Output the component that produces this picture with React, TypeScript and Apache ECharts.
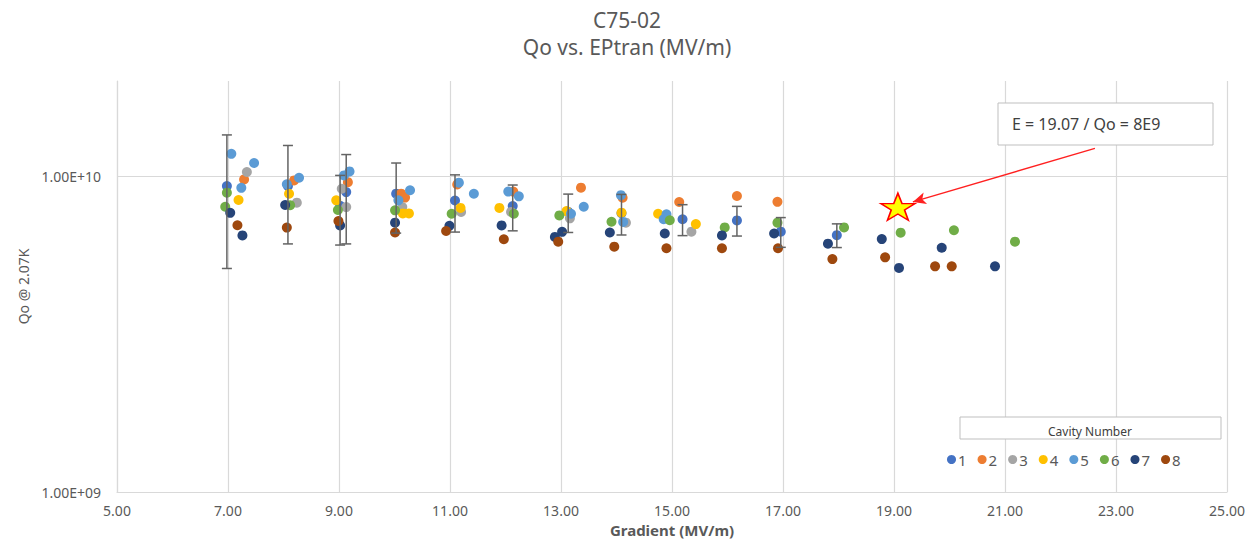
import React, { useEffect, useRef } from 'react';
import * as echarts from 'echarts';

const cavityNames = ['1', '2', '3', '4', '5', '6', '7', '8'];
const cavityColors = ['#4472C4', '#ED7D31', '#A5A5A5', '#FFC000', '#5B9BD5', '#70AD47', '#264478', '#9E480E'];

const cav1 = [[6.98, 9.30e9], [8.08, 9.30e9], [9.02, 8.05e9], [9.13, 8.90e9], [10.03, 8.80e9], [11.09, 8.37e9], [12.13, 8.04e9], [13.13, 7.70e9], [14.09, 7.63e9], [15.19, 7.30e9], [16.17, 7.24e9], [16.96, 6.67e9], [17.97, 6.50e9]];
const cav1Err = [4.2e9, 3.2e9, 2.0e9, 2.8e9, 2.2e9, 1.72e9, 1.33e9, 1.07e9, 1.12e9, 0.82e9, 0.78e9, 0.72e9, 0.56e9];
const cav2 = [[7.29, 9.76e9], [8.19, 9.69e9], [9.16, 9.57e9], [10.12, 8.80e9], [10.19, 8.55e9], [11.13, 9.41e9], [12.14, 8.93e9], [13.36, 9.19e9], [14.11, 8.54e9], [15.13, 8.28e9], [16.17, 8.65e9], [16.90, 8.29e9]];
const cav3 = [[7.34, 1.03e10], [8.24, 8.24e9], [9.05, 9.12e9], [9.13, 7.98e9], [10.14, 7.98e9], [11.20, 7.70e9], [12.10, 7.70e9], [13.16, 7.35e9], [14.17, 7.12e9], [15.35, 6.67e9]];
const cav4 = [[7.19, 8.40e9], [8.10, 8.79e9], [8.95, 8.38e9], [10.15, 7.62e9], [10.26, 7.62e9], [11.19, 7.93e9], [11.89, 7.93e9], [13.10, 7.75e9], [14.09, 7.66e9], [14.75, 7.60e9], [15.43, 7.05e9]];
const cav5 = [[7.06, 1.176e10], [7.47, 1.10e10], [7.24, 9.18e9], [8.06, 9.42e9], [8.28, 9.88e9], [9.09, 1.005e10], [9.19, 1.035e10], [10.07, 8.38e9], [10.28, 9.02e9], [11.16, 9.53e9], [11.43, 8.79e9], [12.05, 8.93e9], [12.24, 8.63e9], [13.18, 7.60e9], [13.41, 8.00e9], [14.08, 8.70e9], [14.12, 7.16e9], [14.85, 7.30e9], [14.90, 7.57e9]];
const cav6 = [[6.98, 8.86e9], [6.95, 8.00e9], [8.12, 8.09e9], [8.98, 7.81e9], [10.01, 7.79e9], [11.03, 7.60e9], [12.15, 7.60e9], [12.97, 7.51e9], [13.91, 7.17e9], [14.96, 7.25e9], [15.95, 6.88e9], [16.90, 7.12e9], [18.10, 6.88e9], [19.12, 6.62e9], [20.08, 6.74e9], [21.18, 6.20e9]];
const cav7 = [[7.04, 7.65e9], [7.26, 6.49e9], [8.03, 8.10e9], [9.02, 6.98e9], [10.01, 7.12e9], [10.99, 6.96e9], [11.93, 6.98e9], [12.89, 6.42e9], [13.02, 6.66e9], [13.88, 6.63e9], [14.87, 6.58e9], [15.90, 6.49e9], [16.84, 6.58e9], [17.81, 6.11e9], [18.78, 6.32e9], [19.09, 5.12e9], [19.86, 5.93e9], [20.82, 5.18e9]];
const cav8 = [[7.17, 6.99e9], [8.06, 6.87e9], [8.99, 7.21e9], [10.01, 6.63e9], [10.93, 6.70e9], [11.97, 6.31e9], [12.95, 6.20e9], [13.96, 5.98e9], [14.90, 5.91e9], [15.90, 5.91e9], [16.91, 5.91e9], [17.89, 5.46e9], [18.84, 5.53e9], [19.74, 5.18e9], [20.04, 5.18e9]];
const cavities = [cav1, cav2, cav3, cav4, cav5, cav6, cav7, cav8];

const highlightPoint = [19.07, 8e9];
const highlightLabel = 'E = 19.07 / Qo = 8E9';
const arrowStart = [22.62, 1.225e10];
const arrowEnd = [19.34, 8.28e9];

const xTicks = { min: 5, max: 25, interval: 2 };
const yRange = { min: 1e9, max: 2e10 };

const gray = '#595959';
const gridColor = '#d9d9d9';
const font = 'Noto Sans';

function sci(v: number) {
  const e = Math.floor(Math.log10(v) + 1e-9);
  const m = v / Math.pow(10, e);
  const es = (e < 0 ? '-' : '+') + String(Math.abs(e)).padStart(2, '0');
  return m.toFixed(2) + 'E' + es;
}

export default function App() {
  const ref = useRef<HTMLDivElement>(null);
  useEffect(() => {
    const chart = echarts.init(ref.current!, null, { renderer: 'svg' });
    const scatterSeries = cavities.map((d, i) => ({
      name: cavityNames[i],
      type: 'scatter',
      data: d,
      symbol: 'circle',
      symbolSize: 10,
      itemStyle: { color: cavityColors[i], opacity: 1 },
      z: 2,
    }));
    const errData = cav1.map((p, i) => [p[0], p[1], cav1Err[i]]);
    const option: any = {
      animation: false,
      backgroundColor: '#ffffff',
      textStyle: { fontFamily: font },
      title: {
        text: 'C75-02\nQo vs. EPtran (MV/m)',
        left: 'center',
        top: 1,
        textStyle: { fontFamily: font, fontSize: 21, lineHeight: 27, fontWeight: 'normal', color: gray },
      },
      grid: { left: 117, right: 27, top: 81, bottom: 50 },
      xAxis: {
        type: 'value',
        min: xTicks.min,
        max: xTicks.max,
        interval: xTicks.interval,
        name: 'Gradient (MV/m)',
        nameLocation: 'middle',
        nameGap: 30,
        nameTextStyle: { fontFamily: font, fontSize: 15, color: gray, fontWeight: 'bold' },
        axisLine: { show: true, lineStyle: { color: gridColor, width: 1.2 } },
        axisTick: { show: false },
        splitLine: { show: true, lineStyle: { color: gridColor, width: 1.2 } },
        axisLabel: { fontFamily: font, fontSize: 14, color: gray, margin: 11, formatter: (v: number) => v.toFixed(2) },
      },
      yAxis: {
        type: 'log',
        logBase: 10,
        min: yRange.min,
        max: yRange.max,
        name: 'Qo @ 2.07K',
        nameLocation: 'middle',
        nameRotate: 90,
        nameGap: 76,
        nameTextStyle: { fontFamily: font, fontSize: 14, color: gray },
        axisLine: { show: true, lineStyle: { color: gridColor, width: 1.2 } },
        axisTick: { show: false },
        splitLine: { show: true, showMaxLine: false, lineStyle: { color: gridColor, width: 1.2 } },
        axisLabel: {
          fontFamily: font, fontSize: 14, color: gray, margin: 16,
          formatter: (v: number) => {
            const l = Math.log10(v);
            return Math.abs(l - Math.round(l)) < 1e-6 ? sci(v) : '';
          },
        },
      },
      legend: {
        data: cavityNames,
        left: 942,
        top: 447,
        icon: 'circle',
        itemWidth: 9,
        itemHeight: 9,
        itemGap: 11,
        textStyle: { fontFamily: font, fontSize: 15, color: gray, padding: [0, 0, 0, -3] },
      },
      series: [
        ...scatterSeries,
        {
          name: 'err',
          type: 'custom',
          data: errData,
          encode: { x: 0, y: 1 },
          z: 3,
          renderItem: (params: any, api: any) => {
            const x = api.value(0);
            const y = api.value(1);
            const e = api.value(2);
            const t = api.coord([x, y + e]);
            const b = api.coord([x, y - e]);
            const hw = 5;
            const st = { stroke: '#636363', lineWidth: 1.5 };
            return {
              type: 'group',
              children: [
                { type: 'line', shape: { x1: t[0], y1: t[1], x2: b[0], y2: b[1] }, style: st },
                { type: 'line', shape: { x1: t[0] - hw, y1: t[1], x2: t[0] + hw, y2: t[1] }, style: st },
                { type: 'line', shape: { x1: b[0] - hw, y1: b[1], x2: b[0] + hw, y2: b[1] }, style: st },
              ],
            };
          },
        },
        {
          name: 'highlight',
          type: 'scatter',
          data: [highlightPoint],
          symbol: 'path://M50,0 L61.8,35 L98,35 L68.8,56.5 L79.4,91 L50,70 L20.6,91 L31.2,56.5 L2,35 L38.2,35 Z',
          symbolSize: [34, 27],
          symbolKeepAspect: false,
          itemStyle: { color: '#FFFF00', borderColor: '#FF0000', borderWidth: 1.5, opacity: 1 },
          z: 4,
          markLine: {
            silent: true,
            symbol: ['none', 'arrow'],
            symbolSize: [9, 13],
            label: { show: false },
            lineStyle: { color: '#FF2020', width: 1.3, type: 'solid' },
            data: [[{ coord: arrowStart }, { coord: arrowEnd }]],
          },
        },
      ],
      graphic: [
        {
          type: 'rect',
          shape: { x: 998, y: 103, width: 215, height: 42 },
          style: { fill: '#ffffff', stroke: '#bfbfbf', lineWidth: 1 },
          z: 10,
        },
        {
          type: 'text',
          x: 1012,
          y: 124,
          style: { text: highlightLabel, fontFamily: font, fontSize: 16, fill: '#404040', verticalAlign: 'middle' },
          z: 11,
        },
        {
          type: 'rect',
          shape: { x: 960, y: 417, width: 261, height: 22 },
          style: { fill: '#ffffff', stroke: '#bfbfbf', lineWidth: 1 },
          z: 10,
        },
        {
          type: 'text',
          x: 1090,
          y: 431,
          style: { text: 'Cavity Number', fontFamily: font, fontSize: 12, fill: '#404040', align: 'center', verticalAlign: 'middle' },
          z: 11,
        },
      ],
    };
    chart.setOption(option);
    return () => chart.dispose();
  }, []);
  return <div ref={ref} style={{ position: 'fixed', left: 0, top: 0, width: 1254, height: 542, background: '#fff' }} />;
}
